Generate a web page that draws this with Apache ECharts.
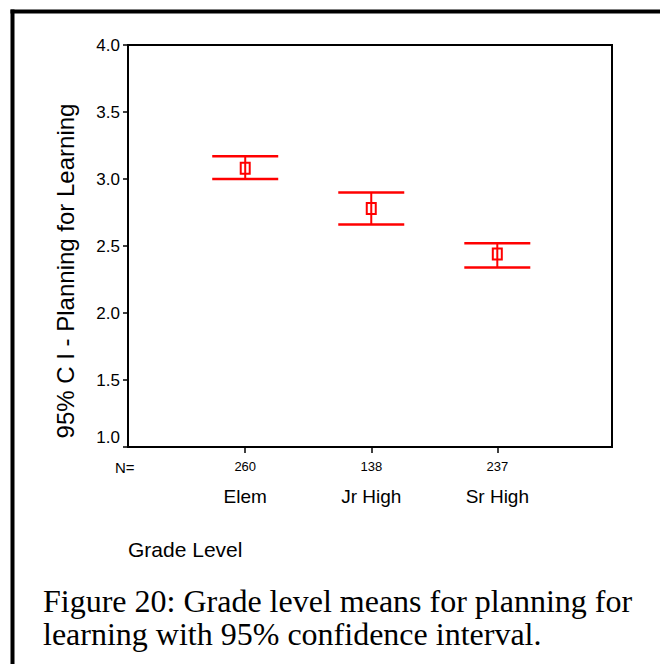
<!DOCTYPE html>
<html>
<head>
<meta charset="utf-8">
<script src="https://cdn.jsdelivr.net/npm/echarts@6/dist/echarts.min.js"></script>
<style>
  html, body { margin: 0; padding: 0; background: #ffffff; }
  #chart { width: 660px; height: 664px; }
</style>
</head>
<body>
<div id="chart"></div>
<script>
// Grade level groups and their sample sizes
const categories = ['Elem', 'Jr High', 'Sr High'];
const sampleSizes = [260, 138, 237];

// Mean score and 95% confidence interval bounds per group
const meanValues = [3.08, 2.78, 2.44];
const lowerBounds = [3.00, 2.66, 2.34];
const upperBounds = [3.17, 2.90, 2.52];

// Value axis ticks
const yTicks = [1.0, 1.5, 2.0, 2.5, 3.0, 3.5, 4.0];

const SANS = '"Liberation Sans", Arial, Helvetica, sans-serif';
const SERIF = '"Liberation Serif", "Times New Roman", Times, serif';
const RED = '#ff0000';

const chart = echarts.init(document.getElementById('chart'), null, { renderer: 'svg' });

const positions = categories.map((c, i) => i + 1);

const option = {
  animation: false,
  backgroundColor: '#ffffff',
  grid: {
    left: 128, top: 45, width: 484, height: 402,
    show: true, borderColor: '#000000', borderWidth: 2,
    backgroundColor: 'transparent'
  },
  xAxis: {
    type: 'value',
    min: 0.07,
    max: 3.91,
    splitLine: { show: false },
    axisLine: { show: true, onZero: false, lineStyle: { color: '#000000', width: 2 } },
    axisTick: {
      show: true, inside: false, length: 6,
      customValues: positions,
      lineStyle: { color: '#000000', width: 1.5 }
    },
    axisLabel: {
      show: true,
      customValues: positions,
      margin: 9,
      formatter: function (v) {
        const i = Math.round(v) - 1;
        return '{n|' + sampleSizes[i] + '}\n{c|' + categories[i] + '}';
      },
      rich: {
        n: { fontFamily: SANS, fontSize: 13, color: '#000000', lineHeight: 20, align: 'center' },
        c: { fontFamily: SANS, fontSize: 19, color: '#000000', lineHeight: 40, align: 'center' }
      }
    }
  },
  yAxis: {
    type: 'value',
    min: yTicks[0],
    max: yTicks[yTicks.length - 1],
    interval: 0.5,
    splitLine: { show: false },
    axisLine: { show: true, onZero: false, lineStyle: { color: '#000000', width: 2 } },
    axisTick: { show: true, inside: false, length: 5, lineStyle: { color: '#000000', width: 1.5 } },
    axisLabel: {
      margin: 8,
      fontFamily: SANS,
      fontSize: 17,
      color: '#000000',
      formatter: function (v) {
        const s = v.toFixed(1);
        return v === yTicks[0] ? '{lo|' + s + '}' : s;
      },
      rich: {
        lo: { fontFamily: SANS, fontSize: 17, color: '#000000', padding: [0, 0, 20, 0] }
      }
    }
  },
  series: [{
    type: 'custom',
    data: positions.map((x, i) => [x, lowerBounds[i], upperBounds[i], meanValues[i]]),
    encode: { x: 0, y: [1, 2, 3] },
    renderItem: function (params, api) {
      const x = api.value(0);
      const lo = api.coord([x, api.value(1)]);
      const hi = api.coord([x, api.value(2)]);
      const mid = api.coord([x, api.value(3)]);
      const capHalf = 33;
      const stem = { stroke: RED, lineWidth: 2 };
      const cap = { stroke: RED, lineWidth: 2.5 };
      return {
        type: 'group',
        children: [
          { type: 'line', shape: { x1: lo[0], y1: lo[1], x2: hi[0], y2: hi[1] }, style: stem },
          { type: 'line', shape: { x1: lo[0] - capHalf, y1: lo[1], x2: lo[0] + capHalf, y2: lo[1] }, style: cap },
          { type: 'line', shape: { x1: hi[0] - capHalf, y1: hi[1], x2: hi[0] + capHalf, y2: hi[1] }, style: cap },
          { type: 'rect', shape: { x: mid[0] - 4.5, y: mid[1] - 5.5, width: 9, height: 11 },
            style: { stroke: RED, lineWidth: 2, fill: 'transparent' } }
        ]
      };
    }
  }],
  graphic: [
    // page frame
    { type: 'line', shape: { x1: 10.5, y1: 11.5, x2: 660, y2: 11.5 }, style: { stroke: '#000000', lineWidth: 4 } },
    { type: 'line', shape: { x1: 12.5, y1: 9.5, x2: 12.5, y2: 664 }, style: { stroke: '#000000', lineWidth: 4 } },
    // value axis title
    {
      type: 'text', x: 65, y: 271, rotation: Math.PI / 2,
      style: {
        text: '95% C I - Planning for Learning', fontFamily: SANS, fontSize: 24,
        fill: '#000000', textAlign: 'center', textVerticalAlign: 'middle'
      }
    },
    {
      type: 'text', x: 115, y: 467,
      style: { text: 'N=', fontFamily: SANS, fontSize: 15, fill: '#000000', textAlign: 'left', textVerticalAlign: 'middle' }
    },
    {
      type: 'text', x: 128, y: 549,
      style: { text: 'Grade Level', fontFamily: SANS, fontSize: 21, fill: '#000000', textAlign: 'left', textVerticalAlign: 'middle' }
    },
    {
      type: 'text', x: 43, y: 601,
      style: { text: 'Figure 20: Grade level means for planning for', fontFamily: SERIF, fontSize: 32, fill: '#000000', textAlign: 'left', textVerticalAlign: 'middle' }
    },
    {
      type: 'text', x: 43, y: 634,
      style: { text: 'learning with 95% confidence interval.', fontFamily: SERIF, fontSize: 32, fill: '#000000', textAlign: 'left', textVerticalAlign: 'middle' }
    }
  ]
};

chart.setOption(option);
</script>
</body>
</html>
